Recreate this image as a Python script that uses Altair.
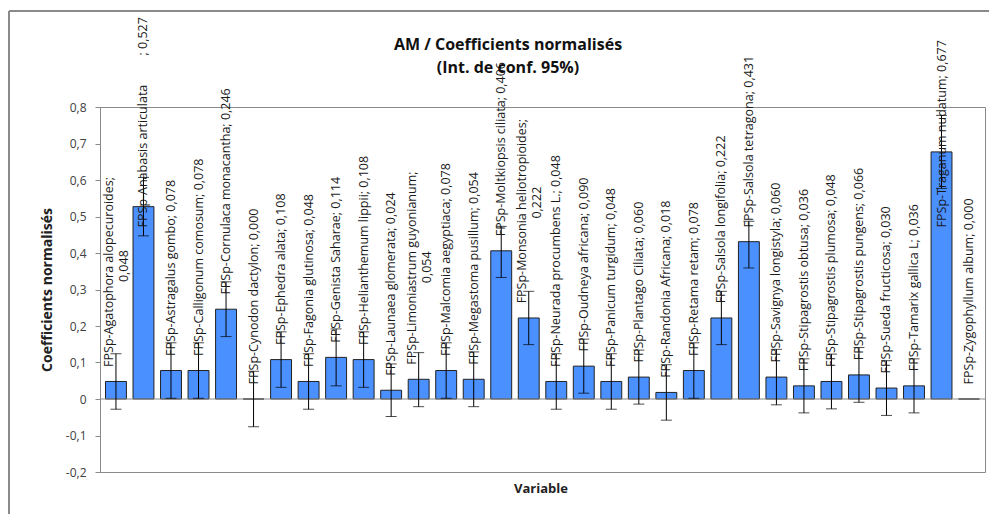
import altair as alt
import pandas as pd

names = [
    "Agatophora alopecuroides", "Anabasis articulata", "Astragalus gombo",
    "Calligonum comosum", "Cornulaca monacantha", "Cynodon dactylon",
    "Ephedra alata", "Fagonia glutinosa", "Genista Saharae",
    "Helianthemum lippii", "Launaea glomerata", "Limoniastrum guyonianum",
    "Malcomia aegyptiaca", "Megastoma pusillum", "Moltkiopsis ciliata",
    "Monsonia heliotropioides", "Neurada procumbens L.", "Oudneya africana",
    "Panicum turgidum", "Plantago Ciliata", "Randonia Africana",
    "Retama retam", "Salsola longifolia", "Salsola tetragona",
    "Savignya longistyla", "Stipagrostis obtusa", "Stipagrostis plumosa",
    "Stipagrostis pungens", "Sueda fructicosa", "Tamarix gallica L",
    "Traganum nudatum", "Zygophyllum album",
]
values = [0.048, 0.527, 0.078, 0.078, 0.246, 0.000, 0.108, 0.048, 0.114,
          0.108, 0.024, 0.054, 0.078, 0.054, 0.406, 0.222, 0.048, 0.090,
          0.048, 0.060, 0.018, 0.078, 0.222, 0.431, 0.060, 0.036, 0.048,
          0.066, 0.030, 0.036, 0.677, 0.000]
lows = [-0.028, 0.447, 0.002, 0.002, 0.171, -0.076, 0.032, -0.028, 0.036,
        0.032, -0.048, -0.021, 0.002, -0.021, 0.333, 0.149, -0.028, 0.016,
        -0.028, -0.014, -0.058, 0.002, 0.149, 0.359, -0.016, -0.038, -0.027,
        -0.009, -0.045, -0.038, 0.577, 0.000]
highs = [0.124, 0.607, 0.154, 0.154, 0.321, 0.076, 0.184, 0.124, 0.192,
         0.184, 0.096, 0.127, 0.154, 0.129, 0.473, 0.295, 0.124, 0.164,
         0.124, 0.134, 0.094, 0.154, 0.295, 0.487, 0.136, 0.110, 0.123,
         0.141, 0.105, 0.110, 0.777, 0.000]
# labels wrapped onto two lines in the reference
wrapped = {"Agatophora alopecuroides", "Limoniastrum guyonianum",
           "Monsonia heliotropioides"}
gap_before_value = {"Anabasis articulata": 9}
y_ticks = [-0.2, -0.1, 0, 0.1, 0.2, 0.3, 0.4, 0.5, 0.6, 0.7, 0.8]
title_lines = ["AM / Coefficients normalisés", "(Int. de conf. 95%)"]

nums = [f"{v:.3f}".replace(".", ",") for v in values]
line1 = []
line2 = []
for n, num in zip(names, nums):
    if n in wrapped:
        line1.append("FPSp-" + n + ";")
        line2.append(num)
    else:
        line1.append("FPSp-" + n + "\u00a0" * gap_before_value.get(n, 0)
                     + "; " + num)
        line2.append("")

df = pd.DataFrame({"name": names, "value": values, "lo": lows, "hi": highs,
                   "line1": line1, "line2": line2,
                   "wrap": [n in wrapped for n in names]})

FONT = "Open Sans"
W, H = 885, 365

x_enc = alt.X("name:N", sort=None, axis=None,
              scale=alt.Scale(paddingInner=0.24, paddingOuter=0.2))
y_scale = alt.Scale(domain=[-0.2, 0.8], nice=False, zero=False)
y_axis = alt.Axis(values=y_ticks, grid=False, tickSize=5,
                  labelPadding=9, domainColor="#8a8a8a",
                  tickColor="#8a8a8a", labelColor="#404040",
                  labelFont=FONT, labelFontSize=12,
                  labelExpr="(datum.value < 0 ? '-' : '') + replace(format(abs(datum.value), '.1~f'), '.', ',')",
                  title="Coefficients normalisés", titleFont=FONT,
                  titleFontSize=14, titleFontWeight="bold",
                  titleColor="#222222", titleAngle=270,
                  titleX=-53, titleY=H / 2, titleAlign="center",
                  titleBaseline="middle")


def Y(field):
    return alt.Y(field, scale=y_scale, axis=y_axis)


base = alt.Chart(df)

bars = base.mark_bar(color="#4a90ff", stroke="#222222", strokeWidth=1).encode(
    x=x_enc, y=Y("value:Q"))

zero = alt.Chart(pd.DataFrame({"z": [0]})).mark_rule(
    color="#8a8a8a", strokeWidth=1).encode(y=Y("z:Q"))

err = base.transform_filter("datum.hi > datum.lo")
err_rule = err.mark_rule(color="black", strokeWidth=1).encode(
    x=x_enc, y=Y("lo:Q"), y2="hi:Q")
cap_lo = err.mark_tick(color="black", size=11, thickness=1).encode(
    x=x_enc, y=Y("lo:Q"))
cap_hi = err.mark_tick(color="black", size=11, thickness=1).encode(
    x=x_enc, y=Y("hi:Q"))

lab = base.transform_calculate(ly="min(datum.value + 0.04, 0.47)")
text_kw = dict(angle=270, baseline="middle", font=FONT, fontSize=12.5,
               color="#1a1a1a")
texts_single = lab.transform_filter("!datum.wrap").mark_text(
    align="left", **text_kw).encode(x=x_enc, y=Y("ly:Q"), text="line1:N")
texts_w1 = lab.transform_filter("datum.wrap").mark_text(
    align="left", dy=-7, **text_kw).encode(x=x_enc, y=Y("ly:Q"), text="line1:N")
texts_w2 = lab.transform_filter("datum.wrap").transform_calculate(
    ly2="datum.ly + length(datum.line1) * 0.0092"
).mark_text(align="center", dy=8, **text_kw).encode(
    x=x_enc, y=Y("ly2:Q"), text="line2:N")

title1 = alt.Chart(pd.DataFrame({"t": [title_lines[0]]})).mark_text(
    font=FONT, fontSize=16, fontWeight="bold", color="#111111",
    baseline="middle").encode(x=alt.value(408), y=alt.value(-62), text="t:N")
title2 = alt.Chart(pd.DataFrame({"t": [title_lines[1]]})).mark_text(
    font=FONT, fontSize=16, fontWeight="bold", color="#111111",
    baseline="middle").encode(x=alt.value(408), y=alt.value(-39), text="t:N")

xtitle = alt.Chart(pd.DataFrame({"t": ["Variable"]})).mark_text(
    font=FONT, fontSize=13, fontWeight="bold", color="#222222",
    baseline="middle").encode(x=alt.value(441), y=alt.value(382), text="t:N")

frame_l = alt.Chart(pd.DataFrame({"a": [0]})).mark_rule(
    color="#8a8a8a", strokeWidth=2).encode(
    x=alt.value(-91), y=alt.value(-96), y2=alt.value(H + 42))
frame_t = alt.Chart(pd.DataFrame({"a": [0]})).mark_rule(
    color="#8a8a8a", strokeWidth=2).encode(
    x=alt.value(-91), x2=alt.value(W + 4), y=alt.value(-96))

chart = alt.layer(
    bars, zero, err_rule, cap_lo, cap_hi, texts_single, texts_w1, texts_w2,
    title1, title2, xtitle, frame_l, frame_t
).properties(
    width=W, height=H,
    autosize=alt.AutoSizeParams(type="none"),
    padding={"left": 92, "top": 99, "right": 4, "bottom": 42},
).configure_view(stroke="#8a8a8a", strokeWidth=1)

chart.save("out.html", embed_options={"renderer": "svg", "actions": False})
